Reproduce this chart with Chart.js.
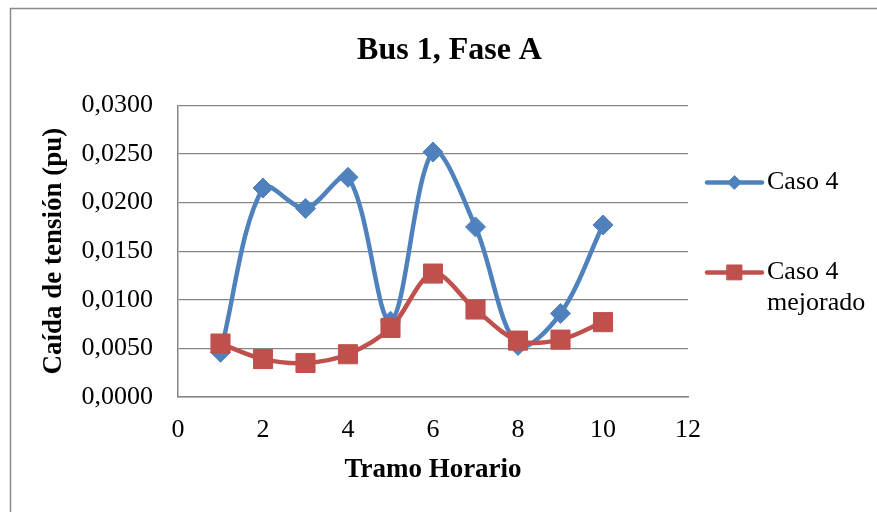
<!DOCTYPE html>
<html>
<head>
<meta charset="utf-8">
<script src="https://cdn.jsdelivr.net/npm/chart.js@4.4.1/dist/chart.umd.min.js"></script>
<style>
  html, body { margin: 0; padding: 0; background: #fff; }
  #wrap { width: 877px; height: 512px; }
</style>
</head>
<body>
<div id="wrap"><canvas id="busChart" width="877" height="512"></canvas></div>
<script>
const tramos = [1, 2, 3, 4, 5, 6, 7, 8, 9, 10];
const caso4 = [0.0046, 0.0215, 0.0194, 0.0226, 0.0078, 0.0252, 0.0175, 0.0053, 0.0086, 0.0177];
const caso4Mejorado = [0.0055, 0.0039, 0.0035, 0.0044, 0.0071, 0.0127, 0.0090, 0.0058, 0.0059, 0.0077];
const seriesNames = ['Caso 4', ['Caso 4', 'mejorado']];
const xTicks = [0, 2, 4, 6, 8, 10, 12];
const yTicks = [0, 0.005, 0.01, 0.015, 0.02, 0.025, 0.03];

const serif = "'Liberation Serif', 'Times New Roman', serif";
const gridGray = '#868686';

const toPoints = (ys) => tramos.map((x, i) => ({ x: x, y: ys[i] }));

// frame around the whole chart, like the Excel chart area
const framePlugin = {
  id: 'frame',
  beforeDraw(chart) {
    const ctx = chart.ctx;
    ctx.save();
    ctx.fillStyle = '#fff';
    ctx.fillRect(0, 0, chart.width, chart.height);
    ctx.strokeStyle = '#8a8a8a';
    ctx.lineWidth = 1.5;
    ctx.strokeRect(10.5, 8.5, chart.width + 10, chart.height + 10);
    ctx.restore();
  }
};

// legend on the right, second label wraps onto two lines
const sideLegend = {
  id: 'sideLegend',
  afterDraw(chart) {
    const ctx = chart.ctx;
    const area = chart.chartArea;
    const rows = [area.top + 77, area.top + 167];
    const markerSize = [6.8, 10.5];
    ctx.save();
    chart.data.datasets.forEach((ds, i) => {
      const y = rows[i];
      const x0 = area.right + 19;
      const x1 = area.right + 74;
      ctx.strokeStyle = ds.borderColor;
      ctx.lineWidth = ds.borderWidth;
      ctx.lineCap = 'round';
      ctx.beginPath();
      ctx.moveTo(x0, y);
      ctx.lineTo(x1, y);
      ctx.stroke();
      ctx.fillStyle = ds.pointBackgroundColor;
      ctx.strokeStyle = ds.pointBorderColor;
      ctx.lineWidth = 1;
      Chart.helpers.drawPoint(ctx, {
        pointStyle: ds.pointStyle,
        radius: markerSize[i],
        borderWidth: 1,
        rotation: 0
      }, (x0 + x1) / 2, y);
      const lines = [].concat(seriesNames[i]);
      ctx.fillStyle = '#000';
      ctx.font = '26px ' + serif;
      ctx.textBaseline = 'middle';
      ctx.textAlign = 'left';
      lines.forEach((t, k) => ctx.fillText(t, x1 + 5, y + k * 31));
    });
    ctx.restore();
  }
};

new Chart(document.getElementById('busChart'), {
  type: 'line',
  data: {
    datasets: [
      {
        label: 'Caso 4',
        data: toPoints(caso4),
        borderColor: '#4F81BD',
        backgroundColor: '#4F81BD',
        pointBackgroundColor: '#4F81BD',
        pointBorderColor: '#4F81BD',
        borderWidth: 4.5,
        pointStyle: 'rectRot',
        pointRadius: 10,
        pointBorderWidth: 1,
        tension: 0.33,
        order: 1
      },
      {
        label: 'Caso 4 mejorado',
        data: toPoints(caso4Mejorado),
        borderColor: '#C0504D',
        backgroundColor: '#C0504D',
        pointBackgroundColor: '#C0504D',
        pointBorderColor: '#C0504D',
        borderWidth: 4.5,
        pointStyle: 'rect',
        pointRadius: 13.5,
        pointBorderWidth: 1,
        tension: 0.33,
        order: 0
      }
    ]
  },
  options: {
    responsive: false,
    animation: false,
    layout: { padding: { left: 22, right: 0, top: 0, bottom: 0 } },
    plugins: {
      legend: { display: false },
      tooltip: { enabled: false },
      title: {
        display: true,
        text: 'Bus 1, Fase A',
        color: '#000',
        font: { family: serif, size: 32, weight: 'bold', lineHeight: 1.2 },
        padding: { top: 32, bottom: 35 }
      }
    },
    scales: {
      x: {
        type: 'linear',
        min: 0,
        max: 12,
        afterBuildTicks: (scale) => { scale.ticks = xTicks.map(v => ({ value: v })); },
        afterFit: (scale) => { scale.height = 115; },
        grid: { display: false, drawTicks: false },
        border: { display: true, color: gridGray, width: 1.5 },
        ticks: {
          color: '#000',
          padding: 18,
          font: { family: serif, size: 26 }
        },
        title: {
          display: true,
          text: 'Tramo Horario',
          color: '#000',
          font: { family: serif, size: 27, weight: 'bold', lineHeight: 1.2 },
          padding: { top: 0, bottom: 26 }
        }
      },
      y: {
        min: 0,
        max: 0.03,
        afterBuildTicks: (scale) => { scale.ticks = yTicks.map(v => ({ value: v })); },
        afterFit: (scale) => { scale.width = 156; },
        grid: { color: gridGray, lineWidth: 1.2, drawTicks: false },
        border: { display: true, color: gridGray, width: 1.5 },
        ticks: {
          color: '#000',
          padding: 25,
          font: { family: serif, size: 26 },
          callback: (v) => v.toFixed(4).replace('.', ',')
        },
        title: {
          display: true,
          text: 'Caída de tensión (pu)',
          color: '#000',
          font: { family: serif, size: 27, weight: 'bold', lineHeight: 1.2 },
          padding: { top: 16, bottom: 0 }
        }
      },
      // empty right-hand box that leaves room for the legend
      legendSpace: {
        type: 'linear',
        position: 'right',
        afterFit: (scale) => { scale.width = 189; },
        grid: { display: false, drawTicks: false },
        border: { display: false },
        ticks: { display: false }
      }
    }
  },
  plugins: [framePlugin, sideLegend]
});
</script>
</body>
</html>
